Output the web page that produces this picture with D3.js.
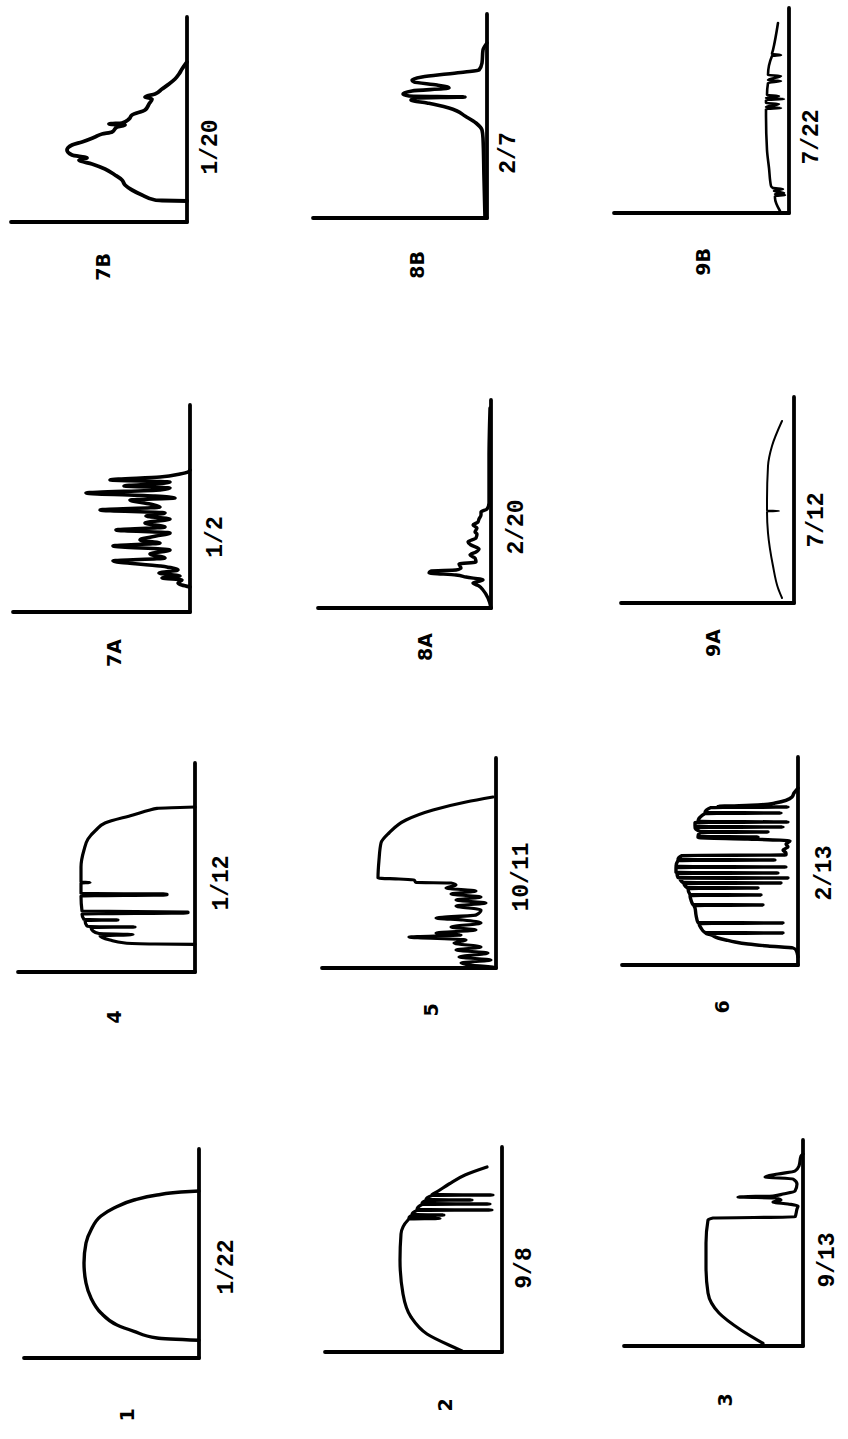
<!DOCTYPE html>
<html><head><meta charset="utf-8">
<script src="https://cdn.jsdelivr.net/npm/d3@7"></script>
<style>html,body{margin:0;padding:0;background:#fff;} svg{display:block;background:#fff;}</style>
</head><body>
<svg id="chart" width="848" height="1439"></svg>
<script>
// ---- DATA: each record is [time (h), radiation (ly/min)] ----
const curve1 = [[1.77,0],[2.0,0.42],[2.67,0.65],[3.3,0.82],[4.5,0.98],[6.0,1.08],[7.5,1.13],[9.5,1.15],[11.5,1.13],[12.8,1.08],[14.2,0.98],[15.0,0.85],[15.8,0.65],[16.3,0.42],[16.6,0.18],[16.7,0.0]];
const curve2 = [[0.1,0.40],[0.33,0.45],[1.8,0.75],[3.5,0.91],[5.8,0.99],[9.2,1.02],[11.8,1.01],[13.2,0.94],[13.3,0.93],[13.35,0.62],[13.4,0.93],[13.65,0.90],[13.7,0.58],[13.75,0.90],[14.15,0.85],[14.2,0.10],[14.25,0.85],[14.75,0.80],[14.8,0.12],[14.85,0.80],[15.15,0.76],[15.2,0.30],[15.25,0.76],[15.65,0.70],[15.7,0.09],[15.75,0.70],[15.8,0.69],[16.8,0.53],[17.7,0.37],[18.5,0.15]];
const curve3 = [[0.27,0.40],[1.6,0.62],[3.3,0.84],[5.3,0.95],[7.9,0.97],[10.3,0.97],[12.6,0.95],[12.8,0.90],[12.9,0.08],[13.7,0.06],[14.0,0.05],[14.2,0.15],[14.4,0.30],[14.6,0.22],[14.8,0.28],[14.9,0.65],[15.0,0.30],[15.2,0.20],[15.5,0.08],[16.2,0.06],[16.7,0.10],[16.9,0.38],[17.2,0.25],[17.5,0.08],[18.0,0.04],[19.0,0.02],[19.2,0]];
const curve4 = [[2.77,0],[2.8,0.40],[2.9,0.70],[3.2,0.85],[3.6,0.95],[3.75,0.62],[3.85,0.96],[4.1,1.02],[4.45,1.04],[4.5,0.60],[4.55,1.05],[4.6,1.08],[5.15,1.10],[5.2,0.77],[5.25,1.11],[5.8,1.13],[5.9,0.07],[6.0,0.07],[6.1,1.13],[7.6,1.14],[7.7,0.28],[7.8,0.28],[7.85,1.14],[8.9,1.14],[8.95,1.05],[9.0,1.14],[10.5,1.14],[12.2,1.11],[13.3,1.07],[14.2,0.99],[14.9,0.90],[15.7,0.62],[16.2,0.45],[16.37,0.38],[16.45,0.15],[16.5,0]];
const curve5 = [[0.1,0.03],[0.5,0.35],[0.8,0.05],[1.1,0.37],[1.5,0.08],[1.8,0.40],[2.1,0.15],[2.5,0.42],[2.8,0.30],[3.1,0.87],[3.3,0.35],[3.5,0.60],[3.8,0.20],[4.1,0.45],[4.5,0.15],[4.8,0.33],[5.0,0.60],[5.3,0.20],[5.8,0.15],[6.2,0.40],[6.5,0.10],[6.8,0.40],[7.1,0.15],[7.4,0.45],[7.7,0.20],[8.0,0.50],[8.3,0.40],[8.5,0.45],[8.55,0.80],[8.8,0.82],[8.9,0.97],[9.0,1.18],[10.8,1.17],[12.5,1.15],[13.5,1.07],[14.8,0.90],[15.8,0.63],[16.6,0.30],[17.1,0.03]];
const curve6 = [[0.8,0],[1.5,0.02],[1.7,0.05],[1.9,0.30],[2.1,0.50],[2.3,0.63],[2.5,0.72],[2.7,0.80],[3.0,0.87],[3.15,0.92],[3.2,0.15],[3.25,0.93],[3.7,0.97],[4.15,0.99],[4.2,0.15],[4.25,1.00],[5.0,1.02],[5.7,1.03],[5.95,1.04],[6.0,0.35],[6.05,1.05],[6.5,1.07],[6.95,1.08],[7.0,0.37],[7.05,1.08],[7.65,1.10],[7.7,0.40],[7.75,1.11],[8.15,1.14],[8.2,0.17],[8.25,1.15],[8.65,1.18],[8.7,0.10],[8.75,1.20],[9.15,1.21],[9.2,0.20],[9.25,1.22],[9.75,1.22],[9.8,0.12],[9.85,1.22],[10.45,1.20],[10.5,0.23],[10.55,1.20],[10.95,1.16],[11.0,0.12],[11.2,0.12],[11.5,0.15],[11.8,0.10],[12.1,0.12],[12.4,0.08],[12.6,0.50],[12.75,1.00],[12.8,0.40],[12.85,1.00],[13.25,0.98],[13.3,0.30],[13.35,0.98],[13.75,1.03],[13.8,0.15],[13.85,1.03],[14.25,1.03],[14.3,0.10],[14.35,1.00],[15.15,0.93],[15.2,0.17],[15.25,0.93],[15.75,0.87],[15.8,0.10],[15.85,0.80],[16.0,0.40],[16.2,0.23],[16.8,0.06],[17.2,0.04],[17.7,0]];
const curve7A = [[2.5,0],[2.9,0.12],[3.2,0.08],[3.4,0.28],[3.6,0.10],[3.9,0.31],[4.2,0.12],[4.6,0.30],[5.1,0.77],[5.4,0.25],[5.8,0.40],[6.2,0.20],[6.6,0.77],[6.9,0.30],[7.2,0.50],[7.6,0.34],[7.9,0.20],[8.2,0.74],[8.5,0.25],[8.9,0.45],[9.3,0.20],[9.6,0.44],[9.9,0.25],[10.2,0.90],[10.5,0.30],[10.8,0.40],[11.2,0.60],[11.4,0.15],[11.6,0.35],[11.9,1.04],[12.2,0.30],[12.4,0.20],[12.6,0.66],[12.8,0.35],[13.0,0.20],[13.2,0.80],[13.5,0.30],[13.8,0.10],[14.0,0.02],[14.2,0]];
const curve8A = [[0,0],[1.0,0.03],[1.8,0.08],[2.2,0.12],[2.5,0.18],[2.8,0.08],[3.1,0.25],[3.3,0.35],[3.5,0.62],[3.7,0.60],[3.8,0.35],[4.0,0.30],[4.4,0.32],[4.6,0.15],[5.0,0.16],[5.3,0.21],[5.6,0.15],[5.9,0.12],[6.3,0.20],[6.6,0.23],[7.0,0.15],[7.4,0.14],[7.6,0.16],[8.0,0.14],[8.3,0.18],[8.6,0.13],[8.9,0.12],[9.3,0.10],[9.6,0.10],[9.9,0.04],[10.5,0.02],[15.0,0.02],[20.0,0.01]];
const curve9A = [[0.5,0.12],[1.5,0.16],[3.7,0.21],[7.0,0.26],[9.15,0.27],[9.2,0.15],[9.25,0.27],[10.3,0.27],[13.7,0.26],[15.7,0.22],[18.2,0.12]];
const curve7B = [[2.1,0],[2.15,0.25],[2.2,0.32],[2.7,0.45],[3.2,0.55],[3.7,0.62],[4.2,0.65],[4.7,0.72],[5.3,0.82],[5.8,0.95],[6.2,1.08],[6.4,1.00],[6.7,1.15],[7.2,1.20],[7.7,1.15],[8.0,1.05],[8.5,0.92],[8.8,0.85],[9.0,0.75],[9.5,0.70],[9.7,0.62],[9.8,0.78],[9.9,0.65],[10.3,0.58],[10.7,0.55],[11.2,0.42],[11.8,0.38],[12.3,0.35],[12.5,0.42],[12.8,0.32],[13.3,0.25],[13.8,0.18],[14.3,0.12],[14.8,0.08],[15.3,0.05],[16.0,0]];
const curve8B = [[0,0.02],[4,0.03],[8,0.04],[8.8,0.05],[9.5,0.11],[10.2,0.22],[10.7,0.30],[11.0,0.38],[11.3,0.50],[11.5,0.60],[11.8,0.76],[12.0,0.70],[12.1,0.22],[12.2,0.78],[12.4,0.84],[12.7,0.75],[13.0,0.38],[13.3,0.50],[13.6,0.73],[13.8,0.75],[14.1,0.65],[14.4,0.40],[14.6,0.22],[14.8,0.08],[15.5,0.05],[16.8,0.04],[17.5,0]];
const curve9B = [[0.2,0.09],[1.5,0.14],[1.7,0.14],[1.8,0.04],[1.9,0.14],[2.0,0.05],[2.2,0.15],[2.4,0.06],[2.5,0.16],[2.7,0.18],[4.5,0.20],[6.3,0.22],[9.7,0.23],[10.4,0.23],[10.5,0.08],[10.6,0.23],[10.9,0.10],[11.0,0.23],[11.3,0.23],[11.4,0.05],[11.5,0.23],[11.7,0.10],[11.8,0.22],[13.0,0.21],[13.2,0.08],[13.3,0.21],[13.7,0.08],[13.8,0.21],[15.7,0.17],[15.8,0.08],[15.9,0.17],[16.3,0.16],[19.0,0.11]];

const panelIds   = ["1","2","3","4","5","6","7A","8A","9A","7B","8B","9B"];
const panelDates = ["1/22","9/8","9/13","1/12","10/11","2/13","1/2","2/20","7/12","1/20","2/7","7/22"];
const panelCurves = [curve1,curve2,curve3,curve4,curve5,curve6,curve7A,curve8A,curve9A,curve7B,curve8B,curve9B];

// ---- LAYOUT (page positions of each small panel; the page is turned a quarter) ----
const layout = {
  "1":  {ox:199, oy:1358, tLen:209, vLen:175, dateAt:91, dateOff:28, idX:-57, idY:-72, w:3.4},
  "2":  {ox:502, oy:1352, tLen:205, vLen:177, dateAt:84, dateOff:23, idX:-53, idY:-57, w:3.2},
  "3":  {ox:803, oy:1346, tLen:206, vLen:179, dateAt:86, dateOff:25, idX:-54, idY:-78, w:3.2},
  "4":  {ox:195, oy:972,  tLen:209, vLen:177, dateAt:89, dateOff:27, idX:-45, idY:-81, w:3.2},
  "5":  {ox:496, oy:968,  tLen:210, vLen:174, dateAt:91, dateOff:26, idX:-42, idY:-65, w:3.2},
  "6":  {ox:798, oy:965,  tLen:208, vLen:176, dateAt:92, dateOff:27, idX:-42, idY:-76, w:3.4},
  "7A": {ox:190, oy:612,  tLen:207, vLen:177, dateAt:75, dateOff:26, idX:-41, idY:-76, w:3.6},
  "8A": {ox:491, oy:608,  tLen:208, vLen:173, dateAt:81, dateOff:26, idX:-39, idY:-66, w:3.4},
  "9A": {ox:794, oy:603,  tLen:206, vLen:173, dateAt:83, dateOff:23, idX:-40, idY:-81, w:2.0},
  "7B": {ox:187, oy:222,  tLen:205, vLen:176, dateAt:75, dateOff:24, idX:-45, idY:-84, w:3.8},
  "8B": {ox:487, oy:218,  tLen:204, vLen:174, dateAt:65, dateOff:22, idX:-47, idY:-70, w:3.6},
  "9B": {ox:789, oy:213,  tLen:205, vLen:175, dateAt:76, dateOff:23, idX:-49, idY:-86, w:2.6}
};

const svg = d3.select("#chart");
svg.append("rect").attr("width",848).attr("height",1439).attr("fill","#fff");

const tScale = d3.scaleLinear().domain([0, 24]).range([0, 240]);   // hours -> px along the time axis
const vScale = d3.scaleLinear().domain([0, 1]).range([0, -100]);   // ly/min -> px (upward)

const line = d3.line()
  .x(d => tScale(d[0]))
  .y(d => vScale(d[1]))
  .curve(d3.curveMonotoneX);

panelIds.forEach((id, i) => {
  const L = layout[id];
  const g = svg.append("g")
    .attr("transform", `translate(${L.ox},${L.oy}) rotate(-90)`);

  // axes
  g.append("line").attr("x1",0).attr("y1",0).attr("x2",L.tLen).attr("y2",0)
    .attr("stroke","#000").attr("stroke-width",3.8).attr("stroke-linecap","round");
  g.append("line").attr("x1",0).attr("y1",0).attr("x2",0).attr("y2",-L.vLen)
    .attr("stroke","#000").attr("stroke-width",3.8).attr("stroke-linecap","round");

  // trace
  g.append("path").datum(panelCurves[i])
    .attr("d", line)
    .attr("fill","none").attr("stroke","#000")
    .attr("stroke-width", L.w)
    .attr("stroke-linejoin","round").attr("stroke-linecap","round");

  // date label under the time axis
  g.append("text")
    .attr("x", L.dateAt).attr("y", L.dateOff)
    .attr("text-anchor","middle").attr("dominant-baseline","central")
    .attr("font-family","'Liberation Mono', 'DejaVu Sans Mono', monospace")
    .attr("font-weight","bold").attr("font-size",23)
    .attr("fill","#000")
    .text(panelDates[i]);

  // panel number
  g.append("text")
    .attr("x", L.idX).attr("y", L.idY)
    .attr("text-anchor","middle").attr("dominant-baseline","central")
    .attr("font-family","'DejaVu Sans', sans-serif")
    .attr("font-weight","bold").attr("font-size",19)
    .attr("fill","#000")
    .text(id);
});
</script>
</body></html>
